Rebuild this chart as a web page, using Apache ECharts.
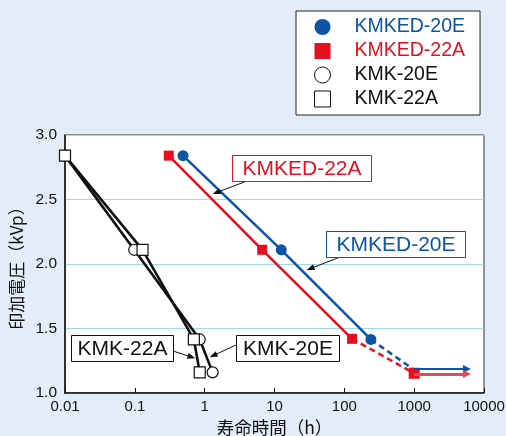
<!DOCTYPE html>
<html>
<head>
<meta charset="utf-8">
<script src="https://cdn.jsdelivr.net/npm/echarts@6/dist/echarts.min.js"></script>
<style>
  html, body { margin: 0; padding: 0; background: #e3edf8; }
  #chart { width: 506px; height: 436px; }
</style>
</head>
<body>
<div id="chart"></div>
<script>
// Lifetime test results: applied voltage (kVp) versus time to failure (h)
const seriesNames = ['KMKED-20E', 'KMKED-22A', 'KMK-20E', 'KMK-22A'];

const kmked20eHours = [0.49, 12.5, 240];
const kmked20eKvp   = [2.84, 2.11, 1.415];
const kmked20eEstHours = [240, 1000];          // estimated (dashed) portion
const kmked20eEstKvp   = [1.415, 1.18];
const kmked20eRunHours = [1000, 5700];         // still running (arrow)
const kmked20eRunKvp   = [1.186, 1.186];

const kmked22aHours = [0.306, 6.67, 129];
const kmked22aKvp   = [2.84, 2.11, 1.42];
const kmked22aEstHours = [129, 1000];
const kmked22aEstKvp   = [1.42, 1.153];
const kmked22aRunHours = [1000, 5700];
const kmked22aRunKvp   = [1.148, 1.148];

const kmk20eHours = [0.01, 0.098, 0.85, 1.30];
const kmk20eKvp   = [2.84, 2.11, 1.415, 1.16];

const kmk22aHours = [0.01, 0.129, 0.70, 0.85];
const kmk22aKvp   = [2.84, 2.11, 1.415, 1.16];

const xTickValues = [0.01, 0.1, 1, 10, 100, 1000, 10000];
const xTickLabels = ['0.01', '0.1', '1', '10', '100', '1000', '10000'];
const yTickLabels = ['1.0', '1.5', '2.0', '2.5', '3.0'];

const BLUE = '#0c55a5';
const RED = '#e60f1e';
const INK = '#111111';
const FONT = '"Liberation Sans", Arial, Helvetica, sans-serif';
const CJK = '"Noto Sans CJK JP", "Noto Sans CJK SC", sans-serif';

const zip = (xs, ys) => xs.map((x, i) => [x, ys[i]]);

function runArrow(color, width, hours, kvp) {
  return {
    silent: true,
    symbol: ['none', 'triangle'],
    symbolSize: 8,
    label: { show: false },
    emphasis: { disabled: true },
    lineStyle: { color: color, width: width, type: 'solid' },
    data: [[{ coord: [hours[0], kvp[0]] }, { coord: [hours[1], kvp[1]] }]]
  };
}

const chart = echarts.init(document.getElementById('chart'), null, { renderer: 'canvas' });

const option = {
  backgroundColor: '#e3edf8',
  animation: false,
  grid: {
    left: 65, right: 22, top: 135, bottom: 43,
    containLabel: false, outerBoundsMode: 'none',
    show: true, backgroundColor: '#ffffff', borderColor: '#333333', borderWidth: 1
  },
  legend: {
    orient: 'vertical',
    left: 296, top: 11,
    backgroundColor: '#ffffff',
    borderColor: '#222222', borderWidth: 1,
    padding: [5, 15, 5, 18],
    itemWidth: 16, itemHeight: 16, itemGap: 2,
    selectedMode: false,
    textStyle: { fontFamily: FONT, fontSize: 19.5, lineHeight: 22, padding: [0, 0, 0, 19] },
    data: [
      { name: seriesNames[0], icon: 'circle', itemStyle: { color: BLUE, borderWidth: 0 }, textStyle: { color: BLUE } },
      { name: seriesNames[1], icon: 'path://M0,0h10v10h-10z', itemStyle: { color: RED, borderWidth: 0 }, textStyle: { color: RED } },
      { name: seriesNames[2], icon: 'circle', itemStyle: { color: '#ffffff', borderColor: INK, borderWidth: 1 }, textStyle: { color: INK } },
      { name: seriesNames[3], icon: 'path://M0,0h10v10h-10z', itemStyle: { color: '#ffffff', borderColor: INK, borderWidth: 1 }, textStyle: { color: INK } }
    ]
  },
  xAxis: {
    type: 'log', logBase: 10, min: 0.01, max: 10000,
    name: '寿命時間（h）', nameLocation: 'middle', nameGap: 25,
    nameTextStyle: { fontFamily: CJK, fontSize: 17.5, color: INK },
    axisLine: { lineStyle: { color: '#111111', width: 1.5 } },
    axisTick: { inside: true, length: 5, lineStyle: { color: '#111111', width: 1 } },
    axisLabel: {
      fontFamily: FONT, fontSize: 15, color: INK, margin: 6,
      formatter: v => {
        const i = xTickValues.findIndex(t => Math.abs(Math.log10(t) - Math.log10(v)) < 1e-6);
        return i >= 0 ? xTickLabels[i] : '';
      }
    },
    splitLine: { show: false }
  },
  yAxis: {
    type: 'value', min: 1, max: 3, interval: 0.5,
    name: '印加電圧（kVp）', nameLocation: 'middle', nameGap: 36, nameRotate: 90,
    nameTextStyle: { fontFamily: CJK, fontSize: 17, color: INK },
    axisLine: { show: true, lineStyle: { color: '#111111', width: 1.5 } },
    axisTick: { show: false },
    axisLabel: {
      fontFamily: FONT, fontSize: 15.5, color: INK, margin: 8,
      formatter: v => yTickLabels[Math.round((v - 1) / 0.5)]
    },
    splitLine: { show: true, lineStyle: { color: '#9fd6f0', width: 1.2 } }
  },
  series: [
    {
      name: seriesNames[2], type: 'line', z: 3,
      data: zip(kmk20eHours, kmk20eKvp),
      symbol: 'circle', symbolSize: 11,
      itemStyle: { color: '#ffffff', borderColor: INK, borderWidth: 1.2 },
      lineStyle: { color: INK, width: 2.6 }
    },
    {
      name: seriesNames[3], type: 'line', z: 4,
      data: zip(kmk22aHours, kmk22aKvp),
      symbol: 'rect', symbolSize: 11,
      itemStyle: { color: '#ffffff', borderColor: INK, borderWidth: 1.2 },
      lineStyle: { color: INK, width: 2.6 }
    },
    {
      name: seriesNames[0], type: 'line', z: 3,
      data: zip(kmked20eEstHours, kmked20eEstKvp),
      showSymbol: false,
      lineStyle: { color: BLUE, width: 2.5, type: [6, 4] },
      markLine: runArrow(BLUE, 2, kmked20eRunHours, kmked20eRunKvp)
    },
    {
      name: seriesNames[1], type: 'line', z: 4,
      data: zip(kmked22aEstHours, kmked22aEstKvp).map((p, i) => i === 0 ? { value: p, symbol: 'none' } : { value: p }),
      symbol: 'rect', symbolSize: 11,
      itemStyle: { color: RED },
      lineStyle: { color: RED, width: 2.5, type: [6, 4] },
      markLine: runArrow('#ea4654', 2.8, kmked22aRunHours, kmked22aRunKvp)
    },
    {
      name: seriesNames[0], type: 'line', z: 5,
      data: zip(kmked20eHours, kmked20eKvp),
      symbol: 'circle', symbolSize: 11,
      itemStyle: { color: BLUE },
      lineStyle: { color: BLUE, width: 2.5 }
    },
    {
      name: seriesNames[1], type: 'line', z: 5,
      data: zip(kmked22aHours, kmked22aKvp),
      symbol: 'rect', symbolSize: 10,
      itemStyle: { color: RED },
      lineStyle: { color: RED, width: 2.5 }
    }
  ]
};

chart.setOption(option);

// Callout boxes with arrows; the arrow tips point at data coordinates.
const callouts = [
  { text: 'KMKED-22A', color: RED,  box: [232, 155, 139, 26], from: [247, 181], tip: [1.30, 2.543] },
  { text: 'KMKED-20E', color: BLUE, box: [326, 231, 139, 26], from: [340, 257], tip: [28.9, 1.953] },
  { text: 'KMK-22A',   color: INK,  box: [71, 335, 102, 26],  from: [173, 351], tip: [0.736, 1.269] },
  { text: 'KMK-20E',   color: INK,  box: [236, 335, 103, 26], from: [236, 345], tip: [1.18, 1.277] }
];

const elements = [];
callouts.forEach(c => {
  const [bx, by, bw, bh] = c.box;
  const tip = chart.convertToPixel({ gridIndex: 0 }, c.tip);
  const dx = tip[0] - c.from[0], dy = tip[1] - c.from[1];
  const len = Math.hypot(dx, dy);
  const ux = dx / len, uy = dy / len, nx = -uy, ny = ux;
  const head = 8, half = 3;
  elements.push({
    type: 'line', silent: true, z: 20,
    shape: { x1: c.from[0], y1: c.from[1], x2: tip[0] - ux * (head - 1), y2: tip[1] - uy * (head - 1) },
    style: { stroke: '#111111', lineWidth: 1 }
  });
  elements.push({
    type: 'polygon', silent: true, z: 20,
    shape: { points: [
      [tip[0], tip[1]],
      [tip[0] - ux * head + nx * half, tip[1] - uy * head + ny * half],
      [tip[0] - ux * head - nx * half, tip[1] - uy * head - ny * half]
    ] },
    style: { fill: '#111111' }
  });
  elements.push({
    type: 'rect', silent: true, z: 21,
    shape: { x: bx + 0.5, y: by + 0.5, width: bw, height: bh },
    style: { fill: '#ffffff', stroke: c.color, lineWidth: 1 }
  });
  elements.push({
    type: 'text', silent: true, z: 22,
    x: bx + bw / 2 + 0.5, y: by + bh / 2 + 1.5,
    style: {
      text: c.text, fill: c.color, font: '21px ' + FONT,
      align: 'center', verticalAlign: 'middle'
    }
  });
});
chart.setOption({ graphic: { elements: elements } });
</script>
</body>
</html>
